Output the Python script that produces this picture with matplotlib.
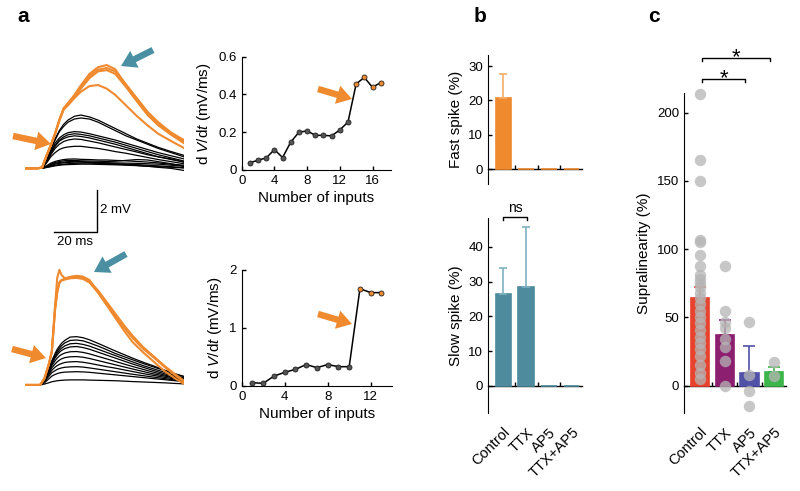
import numpy as np
import matplotlib
matplotlib.use("Agg")
import matplotlib.pyplot as plt
from matplotlib.patches import FancyArrowPatch

plt.rcParams['font.family'] = ['Liberation Sans', 'DejaVu Sans']
plt.rcParams['mathtext.fontset'] = 'custom'
plt.rcParams['mathtext.rm'] = 'Liberation Sans'
plt.rcParams['mathtext.it'] = 'Liberation Sans:italic'

# ---- panel a: example traces (mV) ----
t_top = [0, 6, 8, 10, 12, 14, 16, 18, 20, 23, 26, 30, 34, 38, 42, 47, 52, 57, 62, 68, 74]
top_orange = [
    [0, 0, 0.05, 0.6, 1.1, 1.65, 2.3, 2.85, 3.1, 3.5, 3.95, 4.5, 4.82, 4.92, 4.72, 3.97, 3.3, 2.6, 2.1, 1.7, 1.35],
    [0, 0, 0.05, 0.6, 1.1, 1.65, 2.3, 2.85, 3.1, 3.45, 3.9, 4.4, 4.7, 4.78, 4.62, 4.0, 3.35, 2.7, 2.2, 1.7, 1.25],
    [0, 0, 0.05, 0.6, 1.1, 1.65, 2.3, 2.85, 3.08, 3.4, 3.8, 4.3, 4.62, 4.68, 4.5, 3.88, 3.2, 2.55, 2.05, 1.6, 1.2],
    [0, 0, 0.05, 0.6, 1.1, 1.65, 2.3, 2.8, 3.0, 3.35, 3.65, 3.92, 3.97, 3.8, 3.5, 3.0, 2.5, 2.05, 1.65, 1.3, 0.97],
]
top_black = [
    [0, 0, 0.03, 0.4, 0.9, 1.4, 1.8, 2.1, 2.3, 2.48, 2.54, 2.45, 2.3, 2.1, 1.9, 1.65, 1.4, 1.2, 1.0, 0.8, 0.62],
    [0, 0, 0.03, 0.4, 0.9, 1.35, 1.75, 2.0, 2.2, 2.35, 2.4, 2.35, 2.2, 2.0, 1.8, 1.55, 1.35, 1.15, 0.95, 0.75, 0.55],
    [0, 0, 0.03, 0.35, 0.8, 1.2, 1.45, 1.6, 1.7, 1.75, 1.73, 1.65, 1.55, 1.45, 1.35, 1.2, 1.05, 0.9, 0.75, 0.6, 0.45],
    [0, 0, 0.03, 0.35, 0.75, 1.1, 1.35, 1.5, 1.6, 1.65, 1.62, 1.55, 1.45, 1.35, 1.25, 1.1, 0.95, 0.8, 0.65, 0.5, 0.35],
    [0, 0, 0.03, 0.3, 0.7, 1.05, 1.3, 1.42, 1.5, 1.55, 1.52, 1.45, 1.35, 1.25, 1.15, 1.0, 0.85, 0.7, 0.55, 0.45, 0.3],
    [0, 0, 0.03, 0.3, 0.65, 0.95, 1.15, 1.28, 1.35, 1.4, 1.38, 1.3, 1.22, 1.12, 1.02, 0.9, 0.78, 0.65, 0.55, 0.42, 0.3],
    [0, 0, 0.02, 0.25, 0.55, 0.75, 0.9, 0.98, 1.02, 1.05, 1.05, 1.0, 0.95, 0.88, 0.8, 0.72, 0.62, 0.52, 0.42, 0.32, 0.22],
    [0, 0, 0.02, 0.12, 0.25, 0.33, 0.38, 0.42, 0.44, 0.45, 0.43, 0.42, 0.4, 0.4, 0.38, 0.36, 0.33, 0.3, 0.26, 0.2, 0.15],
    [0, 0, 0.02, 0.1, 0.2, 0.28, 0.33, 0.36, 0.38, 0.38, 0.36, 0.35, 0.34, 0.33, 0.34, 0.38, 0.42, 0.4, 0.32, 0.22, 0.1],
    [0, 0, 0.01, 0.08, 0.17, 0.24, 0.28, 0.3, 0.32, 0.33, 0.32, 0.3, 0.28, 0.27, 0.26, 0.25, 0.24, 0.22, 0.2, 0.15, 0.1],
    [0, 0, 0.01, 0.06, 0.14, 0.2, 0.24, 0.26, 0.28, 0.3, 0.3, 0.28, 0.26, 0.24, 0.22, 0.2, 0.18, 0.15, 0.12, 0.08, 0.03],
    [0, 0, 0.01, 0.05, 0.1, 0.15, 0.18, 0.2, 0.22, 0.24, 0.25, 0.25, 0.24, 0.22, 0.2, 0.18, 0.14, 0.1, 0.05, 0.0, -0.1],
    [0, 0, 0.01, 0.04, 0.08, 0.12, 0.15, 0.17, 0.18, 0.19, 0.2, 0.2, 0.19, 0.18, 0.17, 0.15, 0.13, 0.1, 0.08, 0.05, 0.02],
]

t_bot = [0, 7, 9, 11, 12.5, 14, 15, 16, 17, 18.5, 21, 24, 27, 30, 34, 38, 42, 46, 50, 55, 60, 65, 70, 74]
bot_orange = [
    [0, 0, 0.3, 0.95, 1.6, 3.8, 5.1, 5.48, 5.24, 5.08, 5.15, 5.2, 5.16, 5.0, 4.4, 3.8, 3.2, 2.6, 2.05, 1.55, 1.1, 0.65, 0.3, 0.05],
    [0, 0, 0.3, 0.95, 1.6, 3.6, 4.44, 4.9, 5.0, 5.05, 5.1, 5.15, 5.1, 4.95, 4.5, 3.95, 3.4, 2.85, 2.35, 1.8, 1.35, 0.9, 0.5, 0.2],
    [0, 0, 0.3, 0.95, 1.6, 3.6, 4.4, 4.85, 4.97, 5.02, 5.08, 5.1, 5.05, 4.88, 4.4, 3.85, 3.3, 2.75, 2.25, 1.72, 1.3, 0.85, 0.45, 0.15],
]
bot_black = [
    [0, 0, 0.25, 0.75, 1.15, 1.5, 1.7, 1.85, 1.98, 2.12, 2.28, 2.3, 2.25, 2.15, 1.98, 1.8, 1.62, 1.45, 1.28, 1.08, 0.9, 0.7, 0.52, 0.4],
    [0, 0, 0.25, 0.72, 1.1, 1.42, 1.6, 1.75, 1.87, 2.0, 2.12, 2.14, 2.1, 2.0, 1.85, 1.68, 1.5, 1.35, 1.2, 1.02, 0.85, 0.68, 0.52, 0.4],
    [0, 0, 0.24, 0.7, 1.05, 1.35, 1.52, 1.65, 1.75, 1.86, 1.96, 1.98, 1.93, 1.85, 1.7, 1.55, 1.4, 1.25, 1.1, 0.92, 0.76, 0.6, 0.45, 0.33],
    [0, 0, 0.24, 0.68, 1.0, 1.28, 1.43, 1.55, 1.64, 1.73, 1.81, 1.83, 1.78, 1.7, 1.56, 1.42, 1.28, 1.14, 1.0, 0.84, 0.68, 0.53, 0.4, 0.3],
    [0, 0, 0.23, 0.62, 0.92, 1.15, 1.28, 1.38, 1.45, 1.52, 1.58, 1.59, 1.55, 1.48, 1.36, 1.24, 1.12, 1.0, 0.88, 0.74, 0.6, 0.47, 0.35, 0.25],
    [0, 0, 0.2, 0.55, 0.82, 1.0, 1.1, 1.18, 1.24, 1.3, 1.34, 1.35, 1.32, 1.26, 1.16, 1.06, 0.96, 0.86, 0.76, 0.64, 0.52, 0.42, 0.32, 0.22],
    [0, 0, 0.18, 0.48, 0.7, 0.85, 0.92, 0.98, 1.02, 1.07, 1.1, 1.11, 1.08, 1.03, 0.95, 0.87, 0.8, 0.72, 0.64, 0.54, 0.45, 0.36, 0.28, 0.2],
    [0, 0, 0.15, 0.4, 0.58, 0.68, 0.74, 0.78, 0.81, 0.84, 0.86, 0.87, 0.85, 0.81, 0.75, 0.69, 0.63, 0.57, 0.51, 0.44, 0.37, 0.3, 0.23, 0.17],
    [0, 0, 0.1, 0.28, 0.42, 0.5, 0.54, 0.57, 0.59, 0.61, 0.62, 0.63, 0.62, 0.6, 0.56, 0.52, 0.48, 0.44, 0.4, 0.35, 0.3, 0.25, 0.2, 0.15],
    [0, 0, 0.04, 0.1, 0.15, 0.18, 0.2, 0.21, 0.22, 0.23, 0.24, 0.24, 0.24, 0.23, 0.22, 0.21, 0.2, 0.18, 0.16, 0.14, 0.12, 0.1, 0.07, 0.05],
]

# ---- panel a: dV/dt vs number of inputs ----
n_inputs_top = list(range(1, 18))
dvdt_top = [0.038, 0.052, 0.064, 0.108, 0.066, 0.148, 0.2, 0.207, 0.184, 0.183, 0.181, 0.212, 0.254,
            0.456, 0.49, 0.438, 0.463]
first_orange_top = 14
n_inputs_bot = list(range(1, 14))
dvdt_bot = [0.057, 0.046, 0.17, 0.236, 0.287, 0.37, 0.316, 0.37, 0.333, 0.333, 1.678, 1.61, 1.61]
first_orange_bot = 11

# ---- panel b / c ----
conditions = ['Control', 'TTX', 'AP5', 'TTX+AP5']
fast_spike = [20.7, 0, 0, 0]
fast_err = [7.0, 0, 0, 0]
slow_spike = [26.5, 28.5, 0, 0]
slow_err = [7.5, 17.2, 0, 0]
supra_mean = [64, 37.4, 9.4, 10.3]
supra_err = [8, 11, 19.4, 3.7]
supra_points = [
    [214, 165, 150, 107, 105, 96, 88, 81, 78, 75, 72, 68, 64, 60, 55, 50, 46, 41, 36, 31, 27, 22, 15, 9, 5],
    [88, 55, 47, 42, 34, 28, 18, 0],
    [47, 8, -4, -15],
    [17, 7],
]

ORANGE = '#EF8A2F'
TEAL = '#4E8B9C'
ARROW_BLUE = '#4A8FA2'
c_colors = ['#E8412C', '#8C1F70', '#5251A8', '#3CB54A']

W, H = 800, 491
fig = plt.figure(figsize=(W / 100, H / 100), dpi=100)


def add_px_axes(left, top, right, bottom):
    return fig.add_axes([left / W, 1 - bottom / H, (right - left) / W, (bottom - top) / H])


def style_axes(ax):
    for s in ['top', 'right']:
        ax.spines[s].set_visible(False)
    ax.tick_params(direction='in', length=3, width=1, labelsize=9.5)


# traces top
axt = add_px_axes(25, 55, 184, 245)
for tr in top_black:
    axt.plot(t_top, tr, color='k', lw=0.9)
for tr in top_orange:
    axt.plot(t_top, tr, color=ORANGE, lw=1.5)
axt.set_xlim(0, 74)
axt.set_ylim(-3.65, 5.40)
axt.axis('off')
# scale bar 20 ms / 2 mV
axt.plot([13.5, 33.5, 33.5], [-3.05, -3.05, -1.05], color='k', lw=1, clip_on=False)
axt.text(35, -2.0, '2 mV', ha='left', va='center', fontsize=9.5)
axt.text(23.5, -3.2, '20 ms', ha='center', va='top', fontsize=9.5)

# traces bottom
axb = add_px_axes(25, 255, 184, 395)
for tr in bot_black:
    axb.plot(t_bot, tr, color='k', lw=0.9)
for tr in bot_orange:
    axb.plot(t_bot, tr, color=ORANGE, lw=1.5)
axb.set_xlim(0, 74)
axb.set_ylim(-0.48, 6.19)
axb.axis('off')


def dvdt_axes(ax, x, y, first_orange, xlim, ylim, xticks, yticks, yticklabels):
    style_axes(ax)
    ax.plot(x, y, '-', color='k', lw=1.1, zorder=2)
    k = first_orange - 1
    ax.plot(x[:k], y[:k], 'o', ms=3.6, mfc='#555555', mec='#222222', mew=0.6, zorder=3)
    ax.plot(x[k:], y[k:], 'o', ms=3.6, mfc=ORANGE, mec='#222222', mew=0.6, zorder=3)
    ax.set_xlim(*xlim)
    ax.set_ylim(*ylim)
    ax.set_xticks(xticks)
    ax.set_yticks(yticks)
    ax.set_yticklabels(yticklabels)
    ax.set_xlabel('Number of inputs', fontsize=11, labelpad=3)
    ax.set_ylabel('d $V$/d$t$ (mV/ms)', fontsize=11, labelpad=4)


ax1 = add_px_axes(241.7, 56.7, 390.5, 170)
dvdt_axes(ax1, n_inputs_top, dvdt_top, first_orange_top, (0, 18.2), (0, 0.6),
          [0, 4, 8, 12, 16], [0, 0.2, 0.4, 0.6], ['0', '0.2', '0.4', '0.6'])
ax2 = add_px_axes(241.7, 270, 392.2, 386)
dvdt_axes(ax2, n_inputs_bot, dvdt_bot, first_orange_bot, (0, 14), (0, 2),
          [0, 4, 8, 12], [0, 1, 2], ['0', '1', '2'])


def bar_axes(ax, vals, errs, colors, ecolors, xlim, ylim, yticks, capsize, width):
    style_axes(ax)
    ax.spines['bottom'].set_visible(False)
    x = np.arange(len(vals))
    ax.plot([xlim[0], xlim[1]], [0, 0], color='k', lw=1, zorder=1, clip_on=False)
    ax.plot([0.5, 1.5, 2.5], [0, 0, 0], ls='none', marker=2, ms=3, color='k', mew=1, zorder=1)
    ax.bar(x, vals, width=width, color=colors, edgecolor=colors, lw=1.2, zorder=2)
    for xi, v, e, ec in zip(x, vals, errs, ecolors):
        if e > 0:
            ax.errorbar(xi, v, yerr=[[0], [e]], fmt='none', ecolor=ec, elinewidth=1.2,
                        capsize=capsize, capthick=1.2, zorder=3)
    ax.set_xlim(*xlim)
    ax.set_ylim(*ylim)
    ax.set_yticks(yticks)
    ax.set_xticks(x)
    ax.tick_params(axis='x', length=0)
    return x


# panel b
axf = add_px_axes(488, 55, 582, 184)
bar_axes(axf, fast_spike, fast_err, [ORANGE] * 4, ['#F5AE6A'] * 4, (-0.67, 3.45), (-4.3, 33.2),
         [0, 10, 20, 30], 3, 0.68)
axf.set_xticklabels([])
axf.set_ylabel('Fast spike (%)', fontsize=11, labelpad=4)

axs = add_px_axes(488, 217.7, 582, 412.7)
bar_axes(axs, slow_spike, slow_err, [TEAL] * 4, ['#7FB1C1'] * 4, (-0.67, 3.45), (-7.7, 48.4),
         [0, 10, 20, 30, 40], 3, 0.68)
axs.set_xticklabels(conditions, rotation=45, ha='right', rotation_mode='anchor', fontsize=10.5)
axs.tick_params(axis='x', pad=9)
axs.set_ylabel('Slow spike (%)', fontsize=11, labelpad=4)
# ns bracket
axs.plot([0, 0, 1.05, 1.05], [47.6, 48.6, 48.6, 47.6], color='k', lw=1, clip_on=False)
axs.text(0.52, 49.2, 'ns', ha='center', va='bottom', fontsize=10)

# panel c
axc = add_px_axes(684, 93.3, 786, 412.7)
xc = bar_axes(axc, supra_mean, supra_err, c_colors, c_colors, (-0.65, 3.48), (-19.8, 214.2),
              [0, 50, 100, 150, 200], 4, 0.74)
for xi, pts in zip(xc, supra_points):
    axc.scatter([xi] * len(pts), pts, s=68, color='#B5B5B5', alpha=0.75, lw=0, zorder=4, clip_on=False)
axc.set_xticklabels(conditions, rotation=45, ha='right', rotation_mode='anchor', fontsize=10.5)
axc.tick_params(axis='x', pad=9)
axc.set_ylabel('Supralinearity (%)', fontsize=11, labelpad=4)
# significance brackets
axc.plot([0.07, 0.07, 1.83, 1.83], [222.6, 225, 225, 222.6], color='k', lw=1, clip_on=False)
axc.plot([0.07, 0.07, 2.84, 2.84], [237.6, 240, 240, 237.6], color='k', lw=1, clip_on=False)
axc.text(0.97, 221.0, '*', ha='center', va='baseline', fontsize=16)
axc.text(1.46, 236.0, '*', ha='center', va='baseline', fontsize=16)

# overlay in image pixels for arrows and panel letters
ov = fig.add_axes([0, 0, 1, 1])
ov.set_xlim(0, W)
ov.set_ylim(H, 0)
ov.axis('off')
arrows = [
    ((13, 136), (51, 144), ORANGE),
    ((153, 50), (121, 66), ARROW_BLUE),
    ((318, 89), (352, 99), ORANGE),
    ((12, 349), (46, 358), ORANGE),
    ((126, 254), (94, 272), ARROW_BLUE),
    ((318, 314), (352, 324), ORANGE),
]
for tail, tip, col in arrows:
    ov.add_patch(FancyArrowPatch(tail, tip, arrowstyle='simple,head_length=0.6,head_width=0.75,tail_width=0.26',
                                 mutation_scale=18, color=col, lw=0, shrinkA=0, shrinkB=0))
ov.text(17, 16, 'a', fontsize=15, fontweight='bold', ha='left', va='center')
ov.text(474, 16, 'b', fontsize=15, fontweight='bold', ha='left', va='center')
ov.text(648, 16, 'c', fontsize=15, fontweight='bold', ha='left', va='center')

fig.savefig('out.png', dpi=100)
